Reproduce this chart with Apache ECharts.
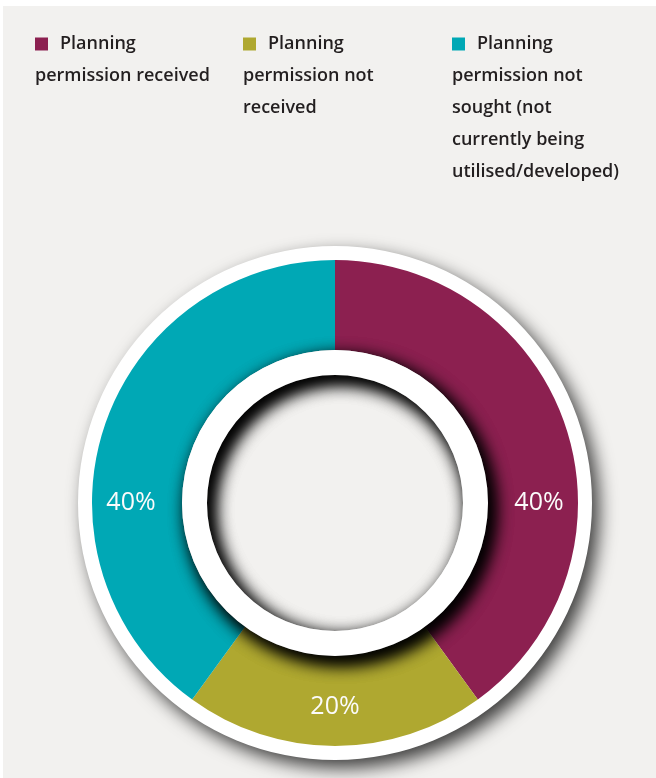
<!DOCTYPE html>
<html>
<head>
<meta charset="utf-8">
<script src="https://cdn.jsdelivr.net/npm/echarts@6/dist/echarts.min.js"></script>
<style>
  html, body { margin: 0; padding: 0; background: #ffffff; }
  #chart { position: absolute; left: 3px; top: 6px; width: 653px; height: 772px; }
</style>
</head>
<body>
<div id="chart"></div>
<script>
// Land status shares
const categories = [
  'Planning permission received',
  'Planning permission not received',
  'Planning permission not sought (not currently being utilised/developed)'
];
const shares = [40, 20, 40];

// Styling
const colors = ['#8c2050', '#afa830', '#00a8b5'];
const FONT = '"Open Sans", "Noto Sans", sans-serif';
const CX = 332, CY = 497;           // donut centre in chart pixels
const LABEL_R = 204;                // radius where value labels sit
const LABEL_ANGLE = [90, 180, 270]; // degrees clockwise from 12 o'clock
const LEGEND_LEFT = [27, 235, 444];
const LEGEND_WORDS_PER_LINE = [[1, 2], [1, 2, 1], [1, 2, 2, 2, 1]];

// break a legend name into lines of the given word counts
function wrapName(name, counts) {
  const words = name.split(' ');
  const lines = [];
  let k = 0;
  counts.forEach(c => { lines.push(words.slice(k, k + c).join(' ')); k += c; });
  if (k < words.length) lines.push(words.slice(k).join(' '));
  return lines.join('\n');
}

const chart = echarts.init(document.getElementById('chart'), null, { renderer: 'canvas' });

const rich = { g: { width: 12, height: 13 } };
colors.forEach((c, i) => {
  rich['m' + i] = { width: 13, height: 13, backgroundColor: c };
});

const legends = categories.map((name, i) => ({
  data: [name],
  left: LEGEND_LEFT[i],
  top: 22,
  padding: 0,
  orient: 'vertical',
  icon: 'rect',
  itemWidth: 0,
  itemHeight: 0,
  selectedMode: false,
  formatter: n => '{m' + i + '|}{g|}' + wrapName(n, LEGEND_WORDS_PER_LINE[i]),
  textStyle: {
    lineHeight: 32,
    fontSize: 18,
    fontWeight: 600,
    fontFamily: FONT,
    color: '#231f20',
    rich: rich
  }
}));

const plainRing = (radius, z, shadow) => ({
  type: 'pie',
  center: [CX, CY],
  radius: radius,
  z: z,
  silent: true,
  animation: false,
  label: { show: false },
  labelLine: { show: false },
  emphasis: { disabled: true },
  data: [{ value: 1, name: '' }],
  itemStyle: Object.assign({ color: '#ffffff' }, shadow)
});

const innerShadow = {
  shadowBlur: 18,
  shadowColor: 'rgba(0,0,0,1)',
  shadowOffsetX: 6,
  shadowOffsetY: 7
};

chart.setOption({
  backgroundColor: '#f2f1ef',
  animation: false,
  legend: legends,
  series: [
    // outer white rim with a drop shadow
    plainRing([140, 257], 1, {
      shadowBlur: 18,
      shadowColor: 'rgba(0,0,0,0.75)',
      shadowOffsetX: 7,
      shadowOffsetY: 8
    }),
    {
      type: 'pie',
      center: [CX, CY],
      radius: [150, 243],
      startAngle: 90,
      clockwise: true,
      z: 2,
      animation: false,
      emphasis: { scale: false },
      itemStyle: { borderWidth: 0 },
      label: {
        show: true,
        position: 'inside',
        formatter: p => p.value + '%',
        color: '#fbfbfb',
        fontSize: 25,
        fontFamily: FONT
      },
      labelLine: { show: false },
      labelLayout: p => {
        const a = LABEL_ANGLE[p.dataIndex] * Math.PI / 180;
        return {
          x: CX + LABEL_R * Math.sin(a),
          y: CY - LABEL_R * Math.cos(a),
          align: 'center',
          verticalAlign: 'middle'
        };
      },
      data: categories.map((name, i) => ({
        name: name,
        value: shares[i],
        itemStyle: { color: colors[i] }
      }))
    },
    // inner white ring, drawn twice so its shadow is dense on the ring below and in the hole
    plainRing([128, 153], 3, innerShadow),
    plainRing([128, 153], 4, innerShadow)
  ]
});
</script>
</body>
</html>
